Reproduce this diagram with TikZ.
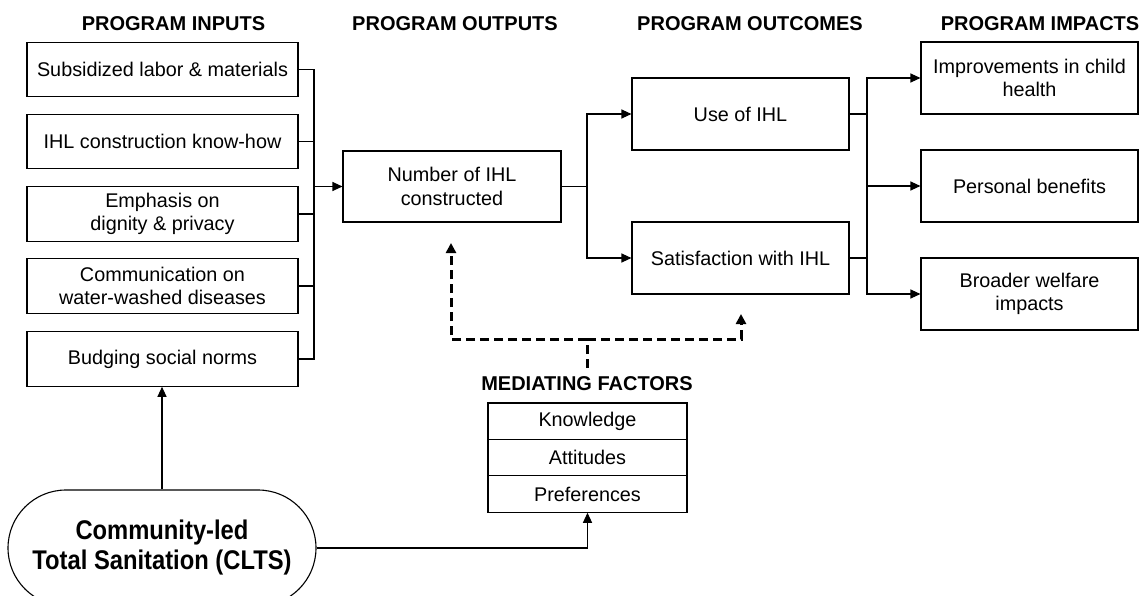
\documentclass[tikz,border=0pt]{standalone}
\usepackage{fontspec}
\setmainfont{Liberation Sans}
\usepackage{graphicx}
\usetikzlibrary{arrows.meta}
\begin{document}
\begin{tikzpicture}[x=1pt,y=-1pt,
  every node/.style={font=\fontsize{19.8}{23.5}\selectfont, align=center, inner sep=0pt},
  box/.style={draw, line width=1.1pt, minimum width=217pt, minimum height=72pt},
  inbox/.style={draw, line width=1.1pt, minimum width=271pt, minimum height=54.5pt},
  medbox/.style={draw, line width=1.1pt, minimum width=199pt, minimum height=36.4pt},
  head/.style={font=\fontsize{20}{24}\selectfont\bfseries},
  conn/.style={line width=1.1pt},
  arr/.style={conn, -{Triangle[length=10pt,width=9pt]}},
  dline/.style={line width=3pt, dash pattern=on 9pt off 5pt},
  dconn/.style={dline, -{Triangle[length=10pt,width=10pt]}}
]
\useasboundingbox (0,0) rectangle (1142,596);
\clip (0,0) rectangle (1142,596);

% headings
\node[head] (hin) at (173.5,24) {PROGRAM INPUTS};
\node[head] (hout) at (455,24) {PROGRAM OUTPUTS};
\node[head] (hoc) at (750,24) {PROGRAM OUTCOMES};
\node[head] (himp) at (1040,24) {PROGRAM IMPACTS};

% inputs
\node[inbox] (in1) at (162.5,69.5) {Subsidized labor \& materials};
\node[inbox] (in2) at (162.5,141.5) {IHL construction know-how};
\node[inbox] (in3) at (162.5,214) {Emphasis on\\dignity \& privacy};
\node[inbox] (in4) at (162.5,286) {Communication on\\water-washed diseases};
\node[inbox] (in5) at (162.5,359) {Budging social norms};

% outputs
\node[box, minimum width=218pt, minimum height=71pt] (num) at (452,186.5) {Number of IHL\\constructed};

% outcomes
\node[box] (use) at (740.5,114) {Use of IHL};
\node[box] (sat) at (740.5,258) {Satisfaction with IHL};

% impacts
\node[box] (imp1) at (1029.5,78) {Improvements in child\\health};
\node[box] (imp2) at (1029.5,186) {Personal benefits};
\node[box] (imp3) at (1029.5,294) {Broader welfare\\impacts};

% mediating factors
\node[head] (medt) at (587,384) {MEDIATING FACTORS};
\node[medbox] (med1) at (587.5,421.2) {Knowledge};
\node[medbox] (med2) at (587.5,457.6) {Attitudes};
\node[medbox] (med3) at (587.5,494) {Preferences};

% CLTS
\node[draw, line width=1.1pt, rounded corners=58pt, minimum width=308pt, minimum height=116pt,
      font=\fontsize{27}{30}\selectfont\bfseries] (clts) at (162,548)
  {\scalebox{0.88}[1]{Community-led}\\\scalebox{0.88}[1]{Total Sanitation (CLTS)}};

% bus coordinates
\coordinate (ibus) at (314,186.5);
\coordinate (obus) at (587,186.5);
\coordinate (cbus) at (867,186);
\coordinate (medtop) at (587,368);
\coordinate (junc) at (587,339);
\coordinate (tipL) at (451,243);
\coordinate (tipR) at (741,314);

% input connectors
\foreach \n in {in1,in2,in3,in4,in5}
  \draw[conn] (\n.east) -| (ibus);
\draw[arr] (ibus) -- (num.west);

% output connectors
\draw[conn] (num.east) -- (obus);
\draw[arr] (obus) |- (use.west);
\draw[arr] (obus) |- (sat.west);

% outcome connectors
\draw[conn] (use.east) -| (cbus);
\draw[conn] (sat.east) -| (cbus);
\draw[arr] (cbus) |- (imp1.west);
\draw[arr] (cbus) -- (imp2.west);
\draw[arr] (cbus) |- (imp3.west);

% CLTS connectors
\draw[arr] (clts.north) -- (clts.north |- in5.south);
\draw[arr] (clts.east) -| (med3.south);

% mediating dashed
\draw[dline] (medtop) -- (junc);
\draw[dconn] (junc) -| (tipL);
\draw[dconn] (junc) -| (tipR);
\end{tikzpicture}
\end{document}
